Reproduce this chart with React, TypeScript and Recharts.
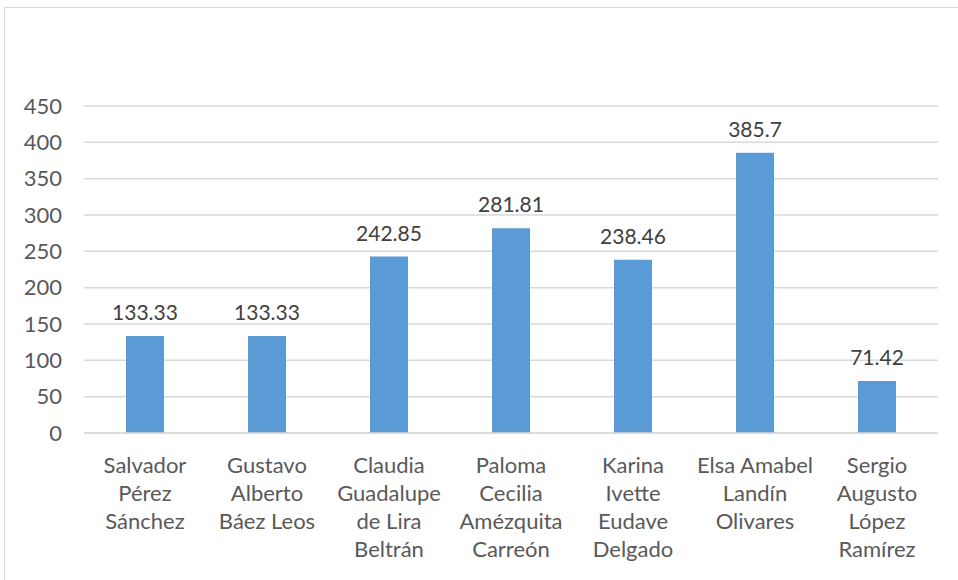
import React from "react";
import { BarChart, Bar, XAxis, YAxis, CartesianGrid, LabelList } from "recharts";

const names = [
  "Salvador Pérez Sánchez",
  "Gustavo Alberto Báez Leos",
  "Claudia Guadalupe de Lira Beltrán",
  "Paloma Cecilia Amézquita Carreón",
  "Karina Ivette Eudave Delgado",
  "Elsa Amabel Landín Olivares",
  "Sergio Augusto López Ramírez",
];
const nameLines: string[][] = [
  ["Salvador", "Pérez", "Sánchez"],
  ["Gustavo", "Alberto", "Báez Leos"],
  ["Claudia", "Guadalupe", "de Lira", "Beltrán"],
  ["Paloma", "Cecilia", "Amézquita", "Carreón"],
  ["Karina", "Ivette", "Eudave", "Delgado"],
  ["Elsa Amabel", "Landín", "Olivares"],
  ["Sergio", "Augusto", "López", "Ramírez"],
];
const values = [133.33, 133.33, 242.85, 281.81, 238.46, 385.7, 71.42];
const yTicks = [0, 50, 100, 150, 200, 250, 300, 350, 400, 450];

const data = names.map((n, i) => ({ name: n, value: values[i], idx: i }));

const FONT = "Lato, 'Open Sans', sans-serif";

const NameTick = (props: any) => {
  const { x, y, index } = props;
  const lines = nameLines[index] || [];
  return (
    <text x={x} y={y} textAnchor="middle" fill="#595959" fontSize={22} fontFamily={FONT}>
      {lines.map((l, i) => (
        <tspan key={i} x={x} y={y + 32 + i * 28}>
          {l}
        </tspan>
      ))}
    </text>
  );
};

export default function App() {
  return (
    <div style={{ position: "absolute", left: 0, top: 0, width: 958, height: 580, background: "#fff" }}>
      <div
        style={{
          position: "absolute",
          left: 4,
          top: 7,
          width: 960,
          height: 580,
          border: "1px solid #D9D9D9",
          boxSizing: "border-box",
        }}
      />
      <div style={{ position: "absolute", left: 0, top: 0 }}>
        <BarChart
          width={958}
          height={580}
          data={data}
          margin={{ top: 106, right: 20, bottom: 0, left: 0 }}
        >
          <CartesianGrid vertical={false} stroke="#D9D9D9" strokeWidth={1.5} />
          <XAxis
            dataKey="name"
            interval={0}
            height={147}
            axisLine={{ stroke: "#D9D9D9", strokeWidth: 1.5 }}
            tickLine={false}
            tick={<NameTick />}
          />
          <YAxis
            width={84}
            domain={[0, 450]}
            ticks={yTicks}
            axisLine={false}
            tickLine={false}
            tickSize={0}
            tickMargin={22}
            tick={{ fill: "#595959", fontSize: 22, fontFamily: FONT }}
          />
          <Bar dataKey="value" fill="#5B9BD5" barSize={38} isAnimationActive={false}>
            <LabelList
              dataKey="value"
              position="top"
              offset={16}
              fill="#404040"
              fontSize={21}
              fontFamily={FONT}
            />
          </Bar>
        </BarChart>
      </div>
    </div>
  );
}
